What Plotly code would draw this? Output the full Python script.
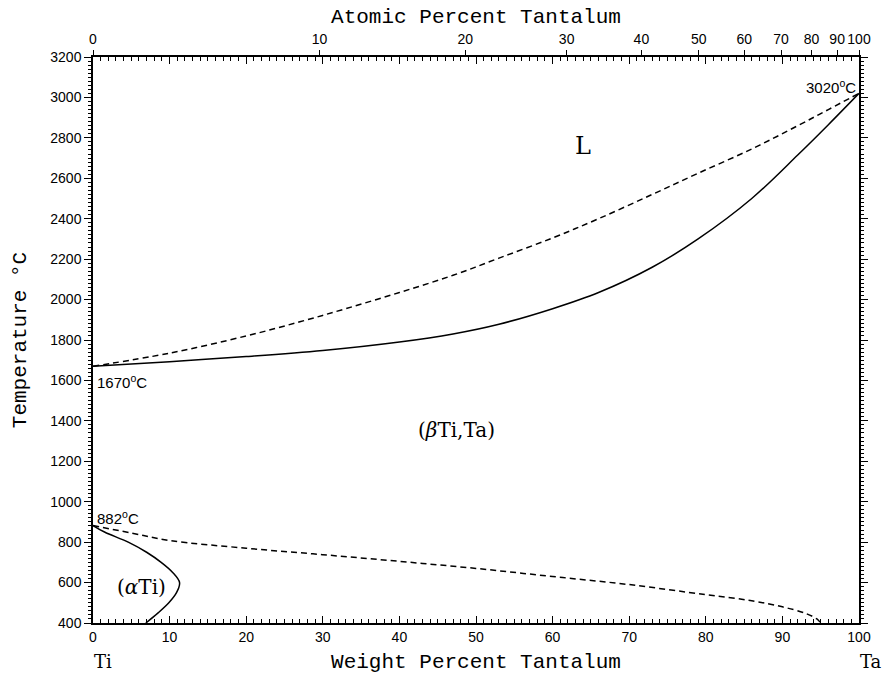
import plotly.graph_objects as go

# ---- data ----
liq_wt = [0, 10, 20, 27, 33, 40, 47, 53, 60, 66, 73, 79, 86, 92, 96, 100]
liq_T = [1670, 1735, 1820, 1890, 1955, 2035, 2120, 2205, 2305, 2400, 2520, 2625, 2745, 2860, 2940, 3020]

sol_wt = [0, 10, 20, 30, 40, 47, 53, 60, 66, 73, 79, 86, 92, 96, 100]
sol_T = [1670, 1693, 1718, 1748, 1790, 1830, 1878, 1955, 2035, 2160, 2300, 2500, 2715, 2865, 3020]

alpha_wt = [0, 1.5, 4.6, 7.0, 8.9, 10.4, 11.3, 10.9, 9.9, 8.5, 6.9]
alpha_T = [882, 850, 800, 750, 700, 650, 600, 550, 500, 450, 400]

beta_wt = [0, 5, 10, 20, 30, 40, 50, 60, 70, 80, 86, 90, 93, 94.5, 95]
beta_T = [882, 845, 808, 770, 738, 705, 670, 630, 590, 540, 510, 480, 448, 420, 400]

atomic_ticks = [0, 10, 20, 30, 40, 50, 60, 70, 80, 90, 100]
M_TA, M_TI = 180.948, 47.867


def at_to_wt(a):
    return 100.0 * a * M_TA / (a * M_TA + (100 - a) * M_TI)


top_pos = [at_to_wt(a) for a in atomic_ticks]

fig = go.Figure()
line_kw = dict(color="black", width=1.5)
fig.add_trace(go.Scatter(x=liq_wt, y=liq_T, mode="lines", line=dict(dash="6px,4px", shape="spline", smoothing=1.0, **line_kw), showlegend=False))
fig.add_trace(go.Scatter(x=sol_wt, y=sol_T, mode="lines", line=dict(shape="spline", smoothing=1.0, **line_kw), showlegend=False))
fig.add_trace(go.Scatter(x=alpha_wt, y=alpha_T, mode="lines", line=dict(shape="spline", **line_kw), showlegend=False))
fig.add_trace(go.Scatter(x=beta_wt, y=beta_T, mode="lines", line=dict(dash="6px,4px", shape="spline", **line_kw), showlegend=False))
# dummy trace for top axis
fig.add_trace(go.Scatter(x=[0, 100], y=[None, None], xaxis="x2", mode="lines", showlegend=False, hoverinfo="skip"))

tickfont = dict(family="Liberation Sans, Arial", size=14, color="black")
titlefont = dict(family="Liberation Mono, Courier New", size=21, color="black")

fig.update_layout(
    width=887, height=674,
    margin=dict(l=93, r=28, t=57, b=51),
    plot_bgcolor="white", paper_bgcolor="white",
    xaxis=dict(range=[0, 100], tickmode="array", tickvals=list(range(0, 101, 10)),
               ticks="inside", ticklen=7, tickwidth=1, tickcolor="black",
               minor=dict(dtick=1, ticks="inside", ticklen=4, tickcolor="black"),
               showline=True, linecolor="black", linewidth=1.5, mirror="ticks",
               showgrid=False, zeroline=False, tickfont=tickfont, automargin=False,
               title=dict(text="Weight Percent Tantalum", font=titlefont, standoff=10)),
    xaxis2=dict(range=[0, 100], overlaying="x", side="top", tickmode="array",
                tickvals=top_pos, ticktext=[str(a) for a in atomic_ticks],
                ticks="outside", ticklen=6, tickcolor="black", showgrid=False, zeroline=False,
                showline=False, tickfont=tickfont, automargin=False,
                title=dict(text="Atomic Percent Tantalum", font=titlefont, standoff=2)),
    yaxis=dict(range=[400, 3200], tickmode="array", tickvals=list(range(400, 3201, 200)),
               ticks="outside", ticklen=7, tickcolor="black",
               minor=dict(dtick=20, ticks="outside", ticklen=3, tickcolor="black"),
               showline=True, linecolor="black", linewidth=1.5, mirror="ticks",
               showgrid=False, zeroline=False, tickfont=tickfont, automargin=False,
               title=dict(text="Temperature °C", font=titlefont, standoff=18)),
)

serif = "DejaVu Serif"
ann = [
    dict(x=64, y=2760, text="L", font=dict(family=serif, size=24)),
    dict(x=47.5, y=1355, text="(<i>β</i>Ti,Ta)", font=dict(family=serif, size=20)),
    dict(x=6.3, y=580, text="(<i>α</i>Ti)", font=dict(family=serif, size=20)),
    dict(x=0.2, y=1595, text="1670<sup>o</sup>C", xanchor="left", font=dict(family="Liberation Sans", size=15)),
    dict(x=0.2, y=922, text="882<sup>o</sup>C", xanchor="left", font=dict(family="Liberation Sans", size=15)),
    dict(x=99.9, y=3052, text="3020<sup>o</sup>C", xanchor="right", font=dict(family="Liberation Sans", size=15)),
]
for a in ann:
    a.setdefault("xanchor", "center")
    a["font"]["color"] = "black"
    fig.add_annotation(showarrow=False, xref="x", yref="y", **a)

fig.add_annotation(x=0, y=-0.088, xref="paper", yref="paper", text="Ti", showarrow=False, borderpad=0,
                   xanchor="left", yanchor="bottom", font=dict(family=serif, size=18, color="black"))
fig.add_annotation(x=1.0, y=-0.088, xref="paper", yref="paper", text="Ta", showarrow=False, borderpad=0,
                   xanchor="left", yanchor="bottom", font=dict(family=serif, size=18, color="black"))

fig.write_html("out.html")
